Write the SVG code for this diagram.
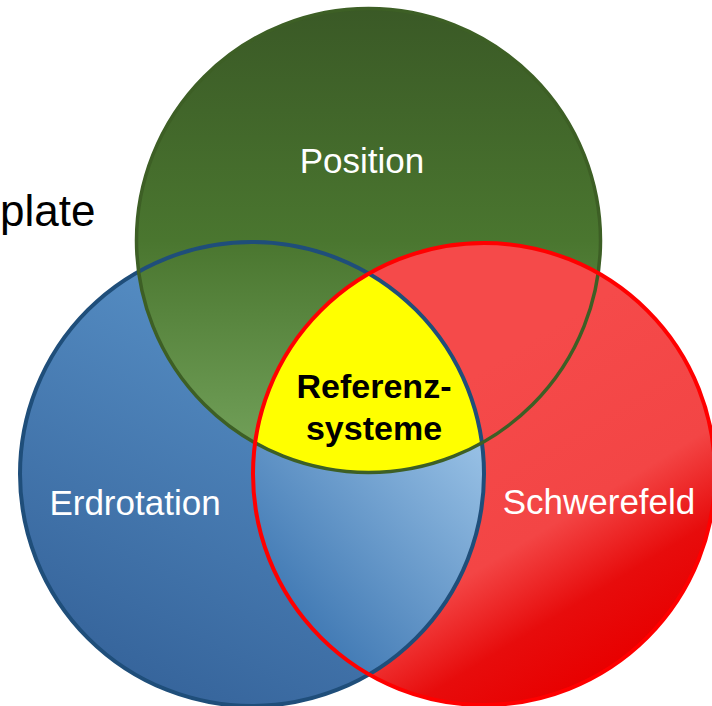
<svg xmlns="http://www.w3.org/2000/svg" width="712" height="706" viewBox="0 0 712 706">
<style>
.lbl{font-family:"Liberation Sans",Arial,sans-serif;font-size:35px;fill:#ffffff;text-anchor:middle}
.ctr{font-family:"Liberation Sans",Arial,sans-serif;font-size:34px;font-weight:bold;fill:#000000;text-anchor:middle}
</style>
<defs>
<linearGradient id="gGreen" gradientUnits="userSpaceOnUse" x1="0" y1="7" x2="0" y2="474">
<stop offset="0" stop-color="#3a5926"/>
<stop offset="0.5" stop-color="#4a762f"/>
<stop offset="1" stop-color="#76a55e"/>
</linearGradient>
<linearGradient id="gBlue" gradientUnits="userSpaceOnUse" x1="340" y1="260" x2="120" y2="690">
<stop offset="0" stop-color="#5c96cc"/>
<stop offset="1" stop-color="#35639a"/>
</linearGradient>
<linearGradient id="gBlueLens" gradientUnits="userSpaceOnUse" x1="480" y1="450" x2="290" y2="620">
<stop offset="0" stop-color="#96bfe4"/>
<stop offset="1" stop-color="#3f78b3"/>
</linearGradient>
<linearGradient id="gRed" gradientUnits="userSpaceOnUse" x1="480" y1="370" x2="690" y2="715">
<stop offset="0" stop-color="#f54a4a"/>
<stop offset="0.42" stop-color="#f34545"/>
<stop offset="0.62" stop-color="#e70c0c"/>
<stop offset="0.8" stop-color="#e80000"/>
<stop offset="1" stop-color="#f20000"/>
</linearGradient>
<clipPath id="cGreen"><circle cx="368.5" cy="240.5" r="232"/></clipPath>
<clipPath id="cRed"><circle cx="484" cy="474" r="231"/></clipPath>
<clipPath id="cBlue"><circle cx="252" cy="474" r="232"/></clipPath>
</defs>

<text x="0" y="226" font-family="Liberation Sans, Arial, sans-serif" font-size="44" fill="#000000">plate</text>

<g id="erdrotation">
<circle cx="252" cy="474" r="232" fill="url(#gBlue)"/>
</g>
<g id="schwerefeld">
<circle cx="484" cy="474" r="231" fill="url(#gRed)"/>
</g>
<g id="position">
<circle cx="368.5" cy="240.5" r="232" fill="url(#gGreen)"/>
</g>
<g id="overlaps">
<g clip-path="url(#cGreen)"><circle cx="484" cy="474" r="231" fill="url(#gRed)"/></g>
<g clip-path="url(#cRed)"><circle cx="252" cy="474" r="232" fill="url(#gBlueLens)"/></g>
</g>
<g id="referenzsysteme">
<g clip-path="url(#cRed)"><g clip-path="url(#cBlue)"><circle cx="368.5" cy="240.5" r="232" fill="#ffff00"/></g></g>
</g>
<g id="outlines" fill="none">
<circle cx="252" cy="474" r="232" stroke="#1f4e7a" stroke-width="4"/>
<circle cx="368.5" cy="240.5" r="232" stroke="#3d5f25" stroke-width="3.5"/>
<circle cx="484" cy="474" r="231" stroke="#ff0000" stroke-width="4"/>
</g>

<text class="lbl" x="362" y="173">Position</text>
<text class="lbl" x="135" y="515">Erdrotation</text>
<text class="lbl" x="599" y="514">Schwerefeld</text>
<text class="ctr" x="374" y="398">Referenz-</text>
<text class="ctr" x="374" y="440">systeme</text>
</svg>
